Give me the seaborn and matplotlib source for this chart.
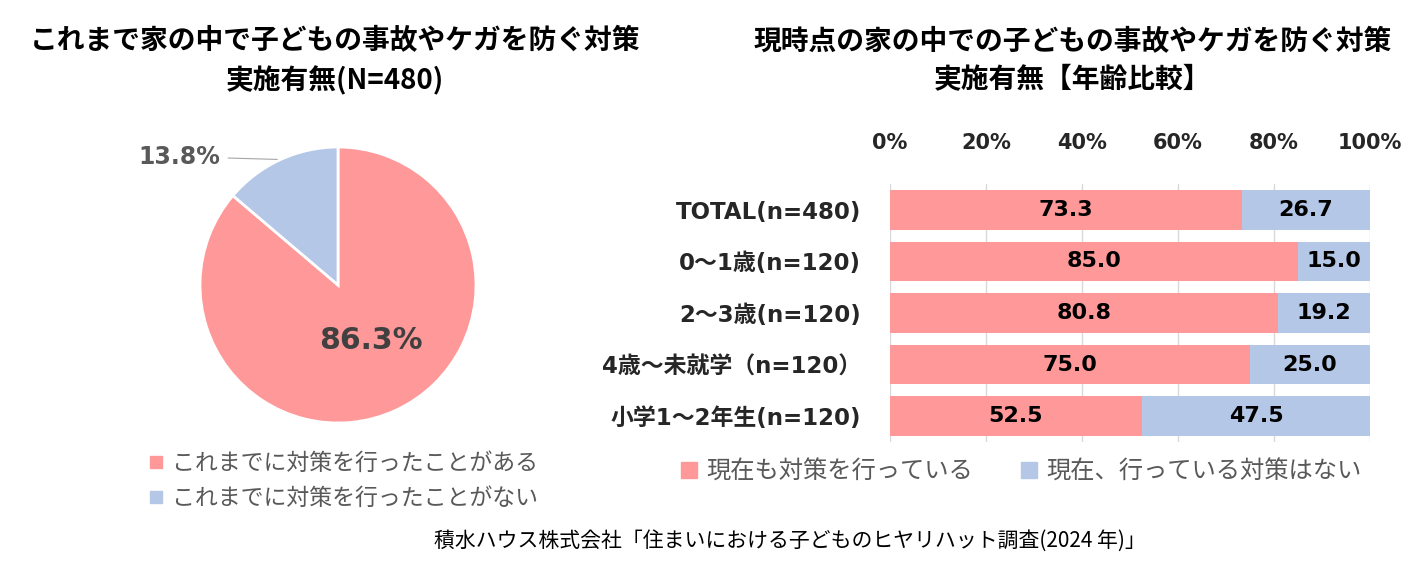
import matplotlib
matplotlib.use("Agg")
import matplotlib.pyplot as plt
from matplotlib.lines import Line2D
import seaborn as sns
import pandas as pd

# ---- data ----
pie_labels = ["これまでに対策を行ったことがある", "これまでに対策を行ったことがない"]
pie_values = [86.3, 13.8]

categories = ["TOTAL(n=480)", "0～1歳(n=120)", "2～3歳(n=120)", "4歳～未就学（n=120）", "小学1～2年生(n=120)"]
doing_now = [73.3, 85.0, 80.8, 75.0, 52.5]
not_doing = [26.7, 15.0, 19.2, 25.0, 47.5]
series_names = ["現在も対策を行っている", "現在、行っている対策はない"]
xticks = [0, 20, 40, 60, 80, 100]

left_title = "これまで家の中で子どもの事故やケガを防ぐ対策\n実施有無(N=480)"
right_title = "現時点の家の中での子どもの事故やケガを防ぐ対策\n実施有無【年齢比較】"
footer = "積水ハウス株式会社「住まいにおける子どものヒヤリハット調査(2024 年)」"

PINK = "#FF9999"
BLUE = "#B4C7E7"

sns.set_theme(style="white")
plt.rcParams['font.family'] = ['Noto Sans CJK JP', 'DejaVu Sans']
LATIN = ['DejaVu Sans', 'Noto Sans CJK JP']

W, H = 1427, 572
fig = plt.figure(figsize=(W / 100, H / 100), dpi=100)

def fx(px):
    return px / W

def fy(py):
    return 1 - py / H

# ---- titles ----
fig.text(fx(335), fy(61), left_title, ha="center", va="center", fontsize=20,
         fontweight="bold", color="black", linespacing=1.45)
fig.text(fx(1073), fy(61), right_title, ha="center", va="center", fontsize=20,
         fontweight="bold", color="black", linespacing=1.45)

# ---- pie ----
r = 138
cx, cy = 338, 285
ax_pie = fig.add_axes([fx(cx - r), fy(cy + r), (2 * r) / W, (2 * r) / H])
wedges, _ = ax_pie.pie(pie_values, colors=[PINK, BLUE], startangle=90, counterclock=False,
                       wedgeprops=dict(edgecolor="white", linewidth=2))
ax_pie.set_aspect("equal")
ax_pie.set_xlim(-1, 1)
ax_pie.set_ylim(-1, 1)
ax_pie.text(0.24, -0.4, f"{pie_values[0]:.1f}%", ha="center", va="center",
            fontsize=21.5, fontweight="bold", color="#404040", family=LATIN)
ax_pie.annotate(f"{pie_values[1]:.1f}%", xy=(-0.44, 0.91), xytext=(-0.85, 0.93),
                ha="right", va="center", fontsize=17, fontweight="bold", color="#595959",
                family=LATIN,
                arrowprops=dict(arrowstyle="-", color="#A6A6A6", lw=0.8,
                                shrinkA=3, shrinkB=0),
                annotation_clip=False)

pie_handles = [Line2D([0], [0], marker="s", linestyle="", markersize=9,
                      markerfacecolor=c, markeredgecolor=c) for c in [PINK, BLUE]]
fig.legend(pie_handles, pie_labels, loc="upper left", bbox_to_anchor=(fx(138), fy(443)),
           frameon=False, fontsize=16.5, labelcolor="#595959", handletextpad=0.3,
           labelspacing=0.5, borderaxespad=0, handlelength=0.8)

# ---- stacked bars ----
df = pd.DataFrame({"cat": categories, "doing": doing_now, "not": not_doing})
df["total"] = df["doing"] + df["not"]

ax = fig.add_axes([fx(890), fy(442), (1370 - 890) / W, (442 - 184) / H])
sns.barplot(data=df, y="cat", x="total", color=BLUE, saturation=1, width=0.77,
            orient="h", ax=ax, zorder=2)
sns.barplot(data=df, y="cat", x="doing", color=PINK, saturation=1, width=0.77,
            orient="h", ax=ax, zorder=3)
for p in ax.patches:
    p.set_edgecolor("none")

ax.set_xlim(0, 100)
ax.set_xticks(xticks)
ax.set_xticklabels([f"{t}%" for t in xticks], fontsize=15, fontweight="bold", family=LATIN)
ax.xaxis.tick_top()
ax.tick_params(axis="x", length=0, pad=22)
ax.tick_params(axis="y", length=0, pad=21)
ax.set_yticklabels(categories, fontsize=16.5, fontweight="bold", family=LATIN)
ax.set_xlabel("")
ax.set_ylabel("")
ax.grid(axis="x", color="#D9D9D9", linewidth=1, zorder=0)
ax.set_axisbelow(True)
for s in ax.spines.values():
    s.set_visible(False)

for i, (a, b) in enumerate(zip(doing_now, not_doing)):
    ax.text(a / 2, i, f"{a:.1f}", ha="center", va="center", fontsize=16,
            fontweight="bold", color="black", zorder=5, family=LATIN)
    ax.text(a + b / 2, i, f"{b:.1f}", ha="center", va="center", fontsize=16,
            fontweight="bold", color="black", zorder=5, family=LATIN)

bar_handles = [Line2D([0], [0], marker="s", linestyle="", markersize=12,
                      markerfacecolor=c, markeredgecolor=c) for c in [PINK, BLUE]]
fig.legend(bar_handles, series_names, loc="center left", bbox_to_anchor=(fx(670), fy(472)),
           ncol=2, frameon=False, fontsize=17.5, labelcolor="#595959", handletextpad=0.3,
           columnspacing=1.9, borderaxespad=0, handlelength=0.8)

# ---- footer ----
fig.text(fx(790), fy(541), footer, ha="center", va="center", fontsize=15, color="black")

fig.savefig("out.png", dpi=100)
